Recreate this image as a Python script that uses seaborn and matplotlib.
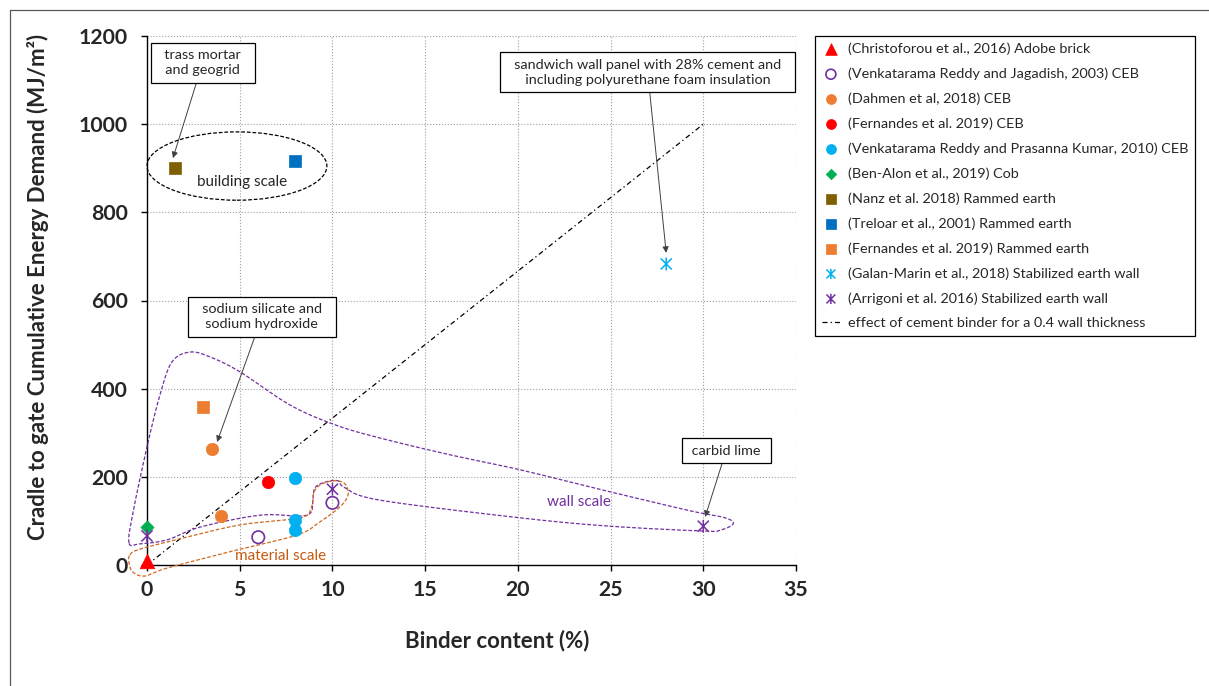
import numpy as np
import pandas as pd
import seaborn as sns
import matplotlib.pyplot as plt
from matplotlib.patches import Ellipse
from matplotlib.lines import Line2D
from matplotlib.path import Path

sns.set_style("ticks")
plt.rcParams['font.family'] = ['Lato', 'DejaVu Sans']

# data
studies = [
    "(Christoforou et al., 2016) Adobe brick",
    "(Venkatarama Reddy and Jagadish, 2003) CEB",
    "(Dahmen et al, 2018) CEB",
    "(Fernandes et al. 2019) CEB",
    "(Venkatarama Reddy and Prasanna Kumar, 2010) CEB",
    "(Ben-Alon et al., 2019) Cob",
    "(Nanz et al. 2018) Rammed earth",
    "(Treloar et al., 2001) Rammed earth",
    "(Fernandes et al. 2019) Rammed earth",
    "(Galan-Marin et al., 2018) Stabilized earth wall",
    "(Arrigoni et al. 2016) Stabilized earth wall",
]
binder = [[0], [6, 10], [3.5, 4], [6.5], [8, 8, 8], [0], [1.5], [8], [3], [28], [0, 10, 30]]
energy = [[8], [63, 141], [263, 111], [188], [197, 103, 79], [87], [900], [916], [358], [683], [66, 172, 88]]

cement_label = "effect of cement binder for a 0.4 wall thickness"
cement_x = [0, 30]
cement_y = [0, 1000]

# excel-style asterisk: an X plus a vertical stroke
asterisk = Path([(-1, -1), (1, 1), (-1, 1), (1, -1), (0, -1.15), (0, 1.15)],
                [Path.MOVETO, Path.LINETO, Path.MOVETO, Path.LINETO, Path.MOVETO, Path.LINETO])

markers = ["^", "o", "o", "o", "o", "D", "s", "s", "s", asterisk, asterisk]
colors = ["#FF0000", "#7030A0", "#ED7D31", "#FF0000", "#00B0F0", "#00B050",
          "#7F6000", "#0070C0", "#ED7D31", "#00B0F0", "#7030A0"]
sizes = [110, 80, 80, 80, 80, 45, 75, 75, 75, 85, 85]

rows = []
for name, xs, ys in zip(studies, binder, energy):
    for x, y in zip(xs, ys):
        rows.append((name, x, y))
df = pd.DataFrame(rows, columns=["study", "binder", "energy"])

# hand-drawn grouping outlines (data coords)
wall_outline = [(-0.97, 50), (-0.76, 118), (0, 268), (0.70, 386), (1.35, 461), (2.32, 483),
                (3.40, 472), (5.02, 438), (7.71, 363), (10.14, 318), (12.57, 288), (16.34, 250),
                (20.12, 216), (24.97, 166), (29.29, 123), (31.18, 107), (31.61, 93), (30.91, 79),
                (30.04, 77), (24.97, 88), (20.12, 107), (12.57, 147), (10.68, 175), (10.30, 191),
                (9.60, 188), (9.06, 175), (8.95, 147), (8.85, 120), (8.25, 111), (6.09, 113),
                (2.86, 86), (1.08, 57), (-0.38, 48)]
material_outline = [(-0.92, 23), (-0.38, 36), (1.94, 61), (5.02, 91), (8.25, 107), (8.85, 129),
                    (9.01, 166), (9.44, 184), (10.14, 191), (10.68, 184), (10.84, 159), (10.41, 132),
                    (9.33, 98), (8.09, 68), (4.64, 32), (1.08, -7), (-0.11, -25), (-0.76, -16),
                    (-0.97, 5)]


def smooth_closed(pts, n=16):
    # Catmull-Rom through the points, done in screen-like proportions
    sx, sy = 649 / 35, 529 / 1200
    P = np.array(pts, float) * [sx, sy]
    N = len(P)
    t = np.linspace(0, 1, n, endpoint=False)[:, None]
    out = []
    for i in range(N):
        p0, p1, p2, p3 = P[i - 1], P[i], P[(i + 1) % N], P[(i + 2) % N]
        out.append(0.5 * (2 * p1 + (-p0 + p2) * t + (2 * p0 - 5 * p1 + 4 * p2 - p3) * t ** 2
                          + (-p0 + 3 * p1 - 3 * p2 + p3) * t ** 3))
    out = np.vstack(out + [out[0][:1]])
    return out[:, 0] / sx, out[:, 1] / sy


fig = plt.figure(figsize=(12.09, 6.86), dpi=100)
ax = fig.add_axes([147 / 1209, 1 - 565 / 686, 649 / 1209, 529 / 686])

for name, m, c, s in zip(studies, markers, colors, sizes):
    sub = df[df.study == name]
    if name.startswith("(Venkatarama Reddy and Jagadish"):
        sns.scatterplot(data=sub, x="binder", y="energy", marker=m, s=s, color=c,
                        facecolor="none", edgecolor=c, linewidth=1.2, ax=ax,
                        clip_on=False, zorder=5, label=name)
    elif isinstance(m, Path):
        sns.scatterplot(data=sub, x="binder", y="energy", marker=m, s=s, color=c,
                        facecolor="none", edgecolor=c, linewidth=1.1, ax=ax,
                        clip_on=False, zorder=5, label=name)
    else:
        sns.scatterplot(data=sub, x="binder", y="energy", marker=m, s=s, color=c,
                        edgecolor=c, linewidth=0.5, ax=ax, clip_on=False, zorder=5, label=name)

sns.lineplot(x=cement_x, y=cement_y, color="black", lw=0.9, linestyle=(0, (4, 2.5, 1, 2.5)),
             ax=ax, label=cement_label)

wx, wy = smooth_closed(wall_outline)
ax.plot(wx, wy, color="#7030A0", lw=0.9, linestyle=(0, (3, 1.5)), clip_on=False, zorder=3)
mx, my = smooth_closed(material_outline)
ax.plot(mx, my, color="#D0691E", lw=0.9, linestyle=(0, (3, 1.5)), clip_on=False, zorder=3)
ax.add_patch(Ellipse((4.85, 905), 9.7, 155, fill=False, ec="black", lw=0.9,
                     linestyle=(0, (3, 1.5)), clip_on=False, zorder=3))

ax.text(5.1, 869, "building scale", fontsize=11, ha="center", va="center")
ax.text(23.3, 143, "wall scale", fontsize=11, ha="center", va="center", color="#7030A0")
ax.text(7.2, 20, "material scale", fontsize=11, ha="center", va="center", color="#C55A11")

box = dict(boxstyle="square,pad=0.45", fc="white", ec="black", lw=0.9)
arrow = dict(arrowstyle="-|>", color="#404040", lw=0.7, mutation_scale=9, shrinkA=0, shrinkB=0)
note_kw = dict(fontsize=10.4, ha="center", va="center", bbox=box, arrowprops=arrow,
               linespacing=1.3, zorder=6)
ax.annotate("  trass mortar  \n  and geogrid  ", xy=(1.4, 923), xytext=(3.0, 1139), **note_kw)
ax.annotate("  sandwich wall panel with 28% cement and  \n  including polyurethane foam insulation  ",
            xy=(28.0, 708), xytext=(27.0, 1118), **note_kw)
ax.annotate("  sodium silicate and  \n  sodium hydroxide  ", xy=(3.78, 279), xytext=(6.2, 563),
            **note_kw)
ax.annotate(" carbid lime ", xy=(30.1, 109), xytext=(31.23, 259), **note_kw)

ax.set_xlim(0, 35)
ax.set_ylim(0, 1200)
ax.set_xticks(range(0, 36, 5))
ax.set_yticks(range(0, 1201, 200))
ax.grid(True, linestyle=":", color="#A0A0A0", lw=0.8)
ax.set_axisbelow(True)
for side in ["top", "right"]:
    ax.spines[side].set_visible(False)
for side in ["left", "bottom"]:
    ax.spines[side].set_color("black")
    ax.spines[side].set_linewidth(1)
ax.tick_params(direction="out", length=4, width=1, labelsize=15.3, color="black")
ax.tick_params(axis="x", pad=7)
ax.tick_params(axis="y", pad=10)
for lbl in ax.get_xticklabels() + ax.get_yticklabels():
    lbl.set_fontweight("bold")

ax.set_xlabel("Binder content (%)", fontsize=16, fontweight="bold")
ax.set_ylabel("Cradle to gate Cumulative Energy Demand (MJ/m²)", fontsize=16, fontweight="bold")
ax.xaxis.set_label_coords(0.539, -0.123)
ax.yaxis.set_label_coords(-0.151, 0.525)

handles, labels = ax.get_legend_handles_labels()
leg = ax.legend(handles, labels, loc="upper left", bbox_to_anchor=(815 / 1209, 1 - 36 / 686),
                bbox_transform=fig.transFigure, fontsize=10.4, frameon=True, fancybox=False,
                edgecolor="black", framealpha=1, borderaxespad=0, labelspacing=0.86,
                handlelength=1.3, handletextpad=0.5, borderpad=0.45, markerscale=0.8)
leg.get_frame().set_linewidth(0.9)

# outer chart border
fig.add_artist(Line2D([10 / 1209, 10 / 1209], [0, 1 - 10 / 686], color="#595959", lw=0.9))
fig.add_artist(Line2D([10 / 1209, 1], [1 - 10 / 686, 1 - 10 / 686], color="#595959", lw=0.9))

fig.savefig("out.png", dpi=100)
